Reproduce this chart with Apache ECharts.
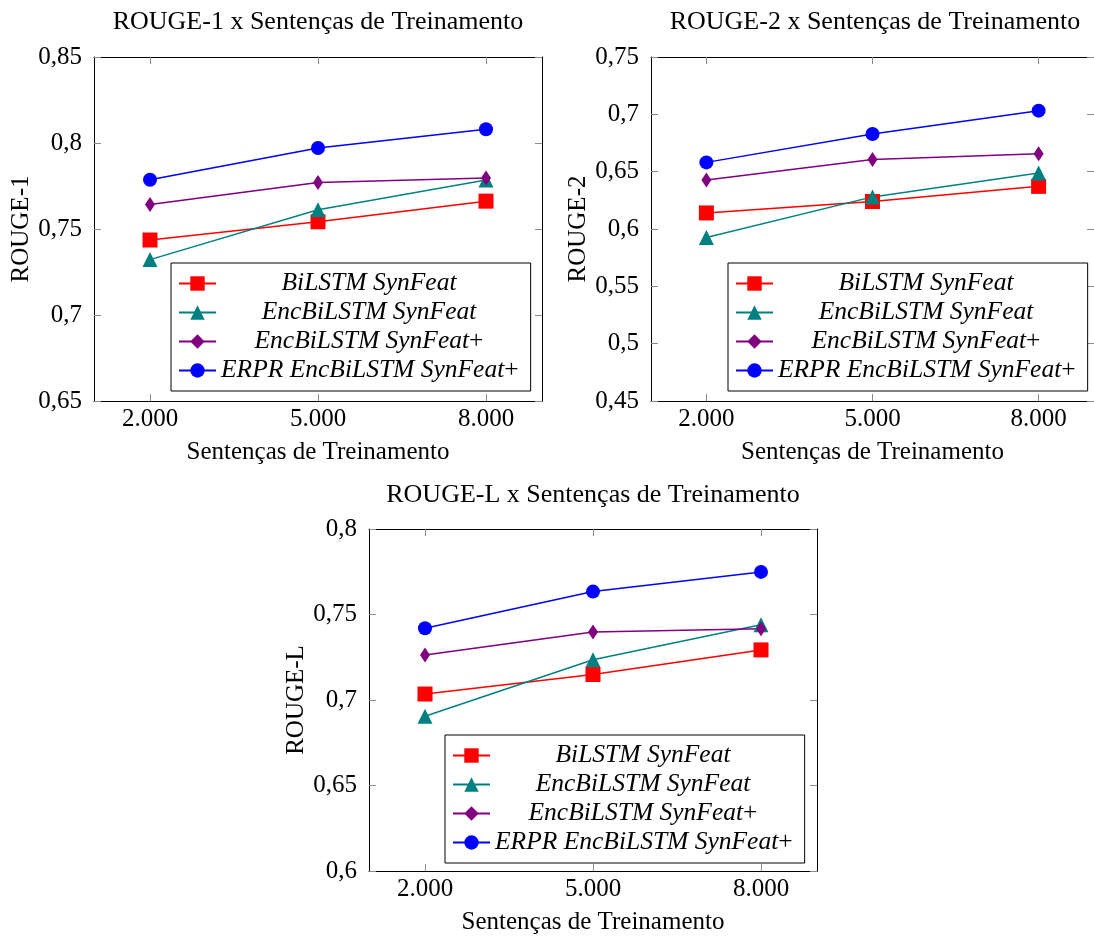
<!DOCTYPE html>
<html>
<head>
<meta charset="utf-8">
<script src="https://cdn.jsdelivr.net/npm/echarts@6/dist/echarts.min.js"></script>
<style>
html,body{margin:0;padding:0;background:#fff;}
#chart{width:1094px;height:936px;}
</style>
</head>
<body>
<div id="chart"></div>
<script>
// ---------- data ----------
const categories = [2000, 5000, 8000];
const xTickLabels = ['2.000', '5.000', '8.000'];
const seriesNames = ['BiLSTM SynFeat', 'EncBiLSTM SynFeat', 'EncBiLSTM SynFeat+', 'ERPR EncBiLSTM SynFeat+'];

const rouge1_bilstm  = [0.7436, 0.7542, 0.7662];
const rouge1_enc     = [0.7322, 0.7612, 0.7785];
const rouge1_encPlus = [0.7643, 0.7771, 0.7797];
const rouge1_erpr    = [0.7786, 0.7971, 0.8080];

const rouge2_bilstm  = [0.6140, 0.6240, 0.6372];
const rouge2_enc     = [0.5925, 0.6280, 0.6488];
const rouge2_encPlus = [0.6427, 0.6607, 0.6657];
const rouge2_erpr    = [0.6581, 0.6828, 0.7032];

const rougeL_bilstm  = [0.7035, 0.7149, 0.7293];
const rougeL_enc     = [0.6905, 0.7235, 0.7440];
const rougeL_encPlus = [0.7263, 0.7397, 0.7416];
const rougeL_erpr    = [0.7420, 0.7634, 0.7749];

const chartTitles = ['ROUGE-1 x Sentenças de Treinamento', 'ROUGE-2 x Sentenças de Treinamento', 'ROUGE-L x Sentenças de Treinamento'];
const yNames = ['ROUGE-1', 'ROUGE-2', 'ROUGE-L'];
const xName = 'Sentenças de Treinamento';
const yRanges = [[0.65, 0.85], [0.45, 0.75], [0.6, 0.8]];
const yInterval = 0.05;

// ---------- styling ----------
const FONT = "'Liberation Serif', 'Times New Roman', serif";
const colors = ['#ff0000', '#008080', '#800080', '#0000ff'];
const symbols = ['rect', 'triangle', 'diamond', 'circle'];
const symbolSizes = [15, 15, [10, 15], 14];

const grids = [
  {left: 94, top: 57, width: 448, height: 344},
  {left: 651, top: 57, width: 448, height: 344},
  {left: 369, top: 529, width: 448, height: 343}
];
const legendPos = [{left: 171, top: 263}, {left: 728, top: 263}, {left: 445, top: 735}];
const titlePos = [{x: 318, y: 9}, {x: 875, y: 9}, {x: 593, y: 482}];

const dataSets = [
  [rouge1_bilstm, rouge1_enc, rouge1_encPlus, rouge1_erpr],
  [rouge2_bilstm, rouge2_enc, rouge2_encPlus, rouge2_erpr],
  [rougeL_bilstm, rougeL_enc, rougeL_encPlus, rougeL_erpr]
];

// legend text centering (fixed text column width)
const TEXT_COL = 296;
const LFS = 25.5;
const cv = document.createElement('canvas').getContext('2d');
function measure(t, italic) {
  cv.font = (italic ? 'italic ' : '') + LFS + 'px ' + FONT;
  return cv.measureText(t).width;
}
const legendRich = {
  i: {fontStyle: 'italic', fontFamily: FONT, fontSize: LFS, lineHeight: 29, color: '#000'},
  n: {fontStyle: 'normal', fontFamily: FONT, fontSize: LFS, lineHeight: 29, color: '#000'}
};
const padOf = {};
seriesNames.forEach((nm, k) => {
  const plus = nm.endsWith('+');
  const base = plus ? nm.slice(0, -1) : nm;
  const w = measure(base, true) + (plus ? measure('+', false) : 0);
  const pad = (TEXT_COL - w) / 2;
  padOf[nm] = pad >= 1 ? k : -1;
  if (pad >= 1) legendRich['p' + k] = {width: pad, fontSize: LFS, lineHeight: 29};
});
function legendFormatter(nm) {
  const k = padOf[nm];
  const plus = nm.endsWith('+');
  const base = plus ? nm.slice(0, -1) : nm;
  const p = k >= 0 ? '{p' + k + '| }' : '';
  return p + '{i|' + base + '}' + (plus ? '{n|+}' : '') + p;
}

const fmtY = v => String(+v.toFixed(2)).replace('.', ',');
const fmtX = v => xTickLabels[categories.indexOf(v)] || '';

const option = {
  animation: false,
  backgroundColor: '#fff',
  title: [], grid: [], xAxis: [], yAxis: [], legend: [], series: []
};

const tickStyle = {show: true, inside: true, length: 7, lineStyle: {color: '#8a8a8a', width: 1}};
const axisLine = {show: true, onZero: false, lineStyle: {color: '#000', width: 1}};

for (let g = 0; g < 3; g++) {
  option.title.push({
    text: chartTitles[g], left: titlePos[g].x, top: titlePos[g].y, textAlign: 'center', padding: 0,
    textStyle: {fontFamily: FONT, fontSize: 26, fontWeight: 'normal', color: '#000'}
  });
  option.grid.push(Object.assign({containLabel: false}, grids[g]));
  // bottom x axis
  option.xAxis.push({
    type: 'value', gridIndex: g, position: 'bottom', min: 1000, max: 9000,
    axisLine: axisLine, splitLine: {show: false},
    axisTick: Object.assign({}, tickStyle, {customValues: categories}),
    axisLabel: {customValues: categories, formatter: fmtX, margin: 6, fontFamily: FONT, fontSize: 25, color: '#000'},
    name: xName, nameLocation: 'middle', nameGap: 39,
    nameTextStyle: {fontFamily: FONT, fontSize: 25, color: '#000'}
  });
  // top mirror
  option.xAxis.push({
    type: 'value', gridIndex: g, position: 'top', min: 1000, max: 9000,
    axisLine: axisLine, splitLine: {show: false},
    axisTick: Object.assign({}, tickStyle, {customValues: categories}),
    axisLabel: {show: false, customValues: categories}
  });
  option.yAxis.push({
    type: 'value', gridIndex: g, position: 'left', min: yRanges[g][0], max: yRanges[g][1], interval: yInterval,
    axisLine: axisLine, splitLine: {show: false}, axisTick: tickStyle,
    axisLabel: {formatter: fmtY, margin: 12, fontFamily: FONT, fontSize: 25, color: '#000'},
    name: yNames[g], nameLocation: 'middle', nameGap: 60,
    nameTextStyle: {fontFamily: FONT, fontSize: 25, color: '#000'}
  });
  option.yAxis.push({
    type: 'value', gridIndex: g, position: 'right', min: yRanges[g][0], max: yRanges[g][1], interval: yInterval,
    axisLine: axisLine, splitLine: {show: false}, axisTick: tickStyle,
    axisLabel: {show: false}
  });
  option.legend.push({
    orient: 'vertical', left: legendPos[g].left, top: legendPos[g].top,
    data: seriesNames, selectedMode: false,
    backgroundColor: '#fff', borderColor: '#000', borderWidth: 1,
    padding: [6, 12, 6, 7], itemGap: 0, itemWidth: 37, itemHeight: 18,
    formatter: legendFormatter,
    textStyle: {fontFamily: FONT, fontSize: LFS, lineHeight: 29, color: '#000', rich: legendRich},
    z: 10
  });
  for (let s = 0; s < 4; s++) {
    option.series.push({
      type: 'line', name: seriesNames[s],
      xAxisIndex: g * 2, yAxisIndex: g * 2,
      data: categories.map((c, i) => [c, dataSets[g][s][i]]),
      symbol: symbols[s], symbolSize: symbolSizes[s],
      showAllSymbol: true,
      lineStyle: {color: colors[s], width: 1.5},
      itemStyle: {color: colors[s], borderWidth: 0},
      emphasis: {disabled: true},
      z: 3
    });
  }
}

const chart = echarts.init(document.getElementById('chart'), null, {renderer: 'canvas'});
chart.setOption(option);
</script>
</body>
</html>
